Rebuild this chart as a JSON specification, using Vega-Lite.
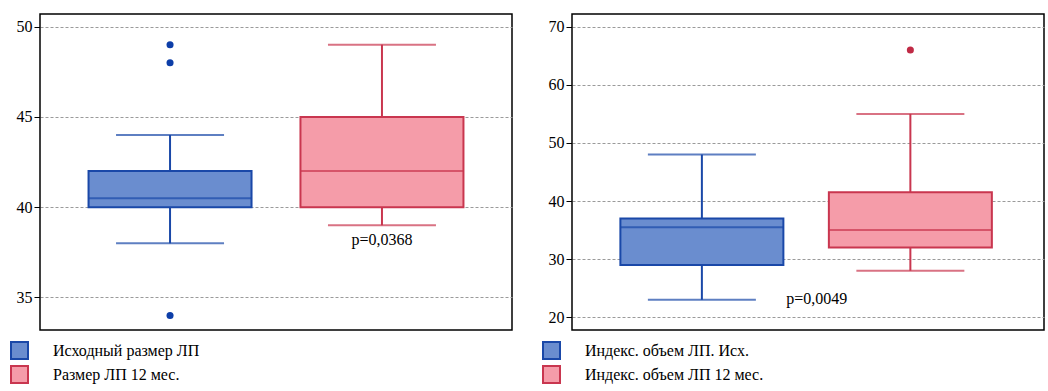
{
  "$schema": "https://vega.github.io/schema/vega-lite/v6.json",
  "background": "white",
  "padding": {"left": 9, "top": 13, "right": 5, "bottom": 2},
  "spacing": 28,
  "config": {
    "font": "Liberation Serif",
    "view": {"stroke": "#000", "strokeWidth": 1.5},
    "axis": {"labelFont": "Liberation Serif", "labelFontSize": 16, "labelColor": "#000", "tickColor": "#000", "tickSize": 6, "labelPadding": 2, "domain": false, "grid": true, "gridDash": [3, 2], "gridColor": "#9a9a9a", "title": null},
    "legend": {"title": null, "symbolType": "square", "symbolSize": 289, "symbolStrokeWidth": 2, "labelFont": "Liberation Serif", "labelFontSize": 16, "labelColor": "#000", "labelOffset": 24, "labelLimit": 500, "rowPadding": -1, "direction": "vertical"}
  },
  "datasets": {
    "boxes": [
      {"panel": "A", "group": "Исходный размер ЛП", "pos": 1, "lower": 38, "q1": 40, "median": 40.5, "q3": 42, "upper": 44},
      {"panel": "A", "group": "Размер ЛП 12 мес.", "pos": 2, "lower": 39, "q1": 40, "median": 42, "q3": 45, "upper": 49},
      {"panel": "B", "group": "Индекс. объем ЛП. Исх.", "pos": 1, "lower": 23, "q1": 29, "median": 35.5, "q3": 37, "upper": 48},
      {"panel": "B", "group": "Индекс. объем ЛП 12 мес.", "pos": 2, "lower": 28, "q1": 32, "median": 35, "q3": 41.5, "upper": 55}
    ],
    "outliers": [
      {"panel": "A", "group": "Исходный размер ЛП", "pos": 1, "value": 49},
      {"panel": "A", "group": "Исходный размер ЛП", "pos": 1, "value": 48},
      {"panel": "A", "group": "Исходный размер ЛП", "pos": 1, "value": 34},
      {"panel": "B", "group": "Индекс. объем ЛП 12 мес.", "pos": 2, "value": 66}
    ],
    "labels": [
      {"panel": "A", "pos": 2, "y": 38.2, "text": "p=0,0368"},
      {"panel": "B", "pos": 1.551, "y": 23.1, "text": "p=0,0049"}
    ]
  },
  "hconcat": [
    {
      "width": 472,
      "height": 316,
      "layer": [
        {
          "data": {"name": "boxes"},
          "transform": [{"filter": "datum.panel === 'A'"}],
          "mark": {"type": "rule", "strokeWidth": 2},
          "encoding": {
            "x": {"field": "pos", "type": "quantitative", "scale": {"domain": [0.41, 2.59], "nice": false, "zero": false}, "axis": null},
            "y": {"field": "lower", "type": "quantitative", "scale": {"domain": [33.2, 50.7], "nice": false, "zero": false}, "axis": {"values": [35, 40, 45, 50]}},
            "y2": {"field": "upper"},
            "stroke": {"field": "group", "type": "nominal", "scale": {"domain": ["Исходный размер ЛП", "Размер ЛП 12 мес."], "range": ["#1a48a8", "#c9364f"]}, "legend": {"orient": "none", "legendX": -30, "legendY": 327}}
          }
        },
        {
          "data": {"name": "boxes"},
          "transform": [{"filter": "datum.panel === 'A'"}],
          "mark": {"type": "tick", "orient": "horizontal", "size": 108, "thickness": 2},
          "encoding": {
            "x": {"field": "pos", "type": "quantitative"},
            "y": {"field": "lower", "type": "quantitative"},
            "color": {"field": "group", "type": "nominal", "scale": {"domain": ["Исходный размер ЛП", "Размер ЛП 12 мес."], "range": ["#1a48a8", "#c9364f"]}, "legend": null}
          }
        },
        {
          "data": {"name": "boxes"},
          "transform": [{"filter": "datum.panel === 'A'"}],
          "mark": {"type": "tick", "orient": "horizontal", "size": 108, "thickness": 2},
          "encoding": {
            "x": {"field": "pos", "type": "quantitative"},
            "y": {"field": "upper", "type": "quantitative"},
            "color": {"field": "group", "type": "nominal", "scale": {"domain": ["Исходный размер ЛП", "Размер ЛП 12 мес."], "range": ["#1a48a8", "#c9364f"]}, "legend": null}
          }
        },
        {
          "data": {"name": "boxes"},
          "transform": [{"filter": "datum.panel === 'A'"}],
          "mark": {"type": "bar", "size": 163, "strokeWidth": 2, "opacity": 1},
          "encoding": {
            "x": {"field": "pos", "type": "quantitative"},
            "y": {"field": "q1", "type": "quantitative"},
            "y2": {"field": "q3"},
            "fill": {"field": "group", "type": "nominal", "scale": {"domain": ["Исходный размер ЛП", "Размер ЛП 12 мес."], "range": ["#6a8dcf", "#f59ca9"]}, "legend": {"orient": "none", "legendX": -30, "legendY": 327}},
            "stroke": {"field": "group", "type": "nominal"}
          }
        },
        {
          "data": {"name": "boxes"},
          "transform": [{"filter": "datum.panel === 'A'"}],
          "mark": {"type": "tick", "orient": "horizontal", "size": 163, "thickness": 2},
          "encoding": {
            "x": {"field": "pos", "type": "quantitative"},
            "y": {"field": "median", "type": "quantitative"},
            "color": {"field": "group", "type": "nominal", "scale": {"domain": ["Исходный размер ЛП", "Размер ЛП 12 мес."], "range": ["#1a48a8", "#c9364f"]}, "legend": null}
          }
        },
        {
          "data": {"name": "outliers"},
          "transform": [{"filter": "datum.panel === 'A'"}],
          "mark": {"type": "point", "filled": true, "size": 50, "opacity": 1},
          "encoding": {
            "x": {"field": "pos", "type": "quantitative"},
            "y": {"field": "value", "type": "quantitative"},
            "color": {"field": "group", "type": "nominal", "scale": {"domain": ["Исходный размер ЛП", "Размер ЛП 12 мес."], "range": ["#0d3ea8", "#c02a45"]}, "legend": null}
          }
        },
        {
          "data": {"name": "labels"},
          "transform": [{"filter": "datum.panel === 'A'"}],
          "mark": {"type": "text", "font": "Liberation Serif", "fontSize": 16, "color": "#000", "baseline": "middle", "align": "center"},
          "encoding": {
            "x": {"field": "pos", "type": "quantitative"},
            "y": {"field": "y", "type": "quantitative"},
            "text": {"field": "text"}
          }
        }
      ],
      "resolve": {"scale": {"color": "independent"}}
    },
    {
      "width": 472,
      "height": 316,
      "layer": [
        {
          "data": {"name": "boxes"},
          "transform": [{"filter": "datum.panel === 'B'"}],
          "mark": {"type": "rule", "strokeWidth": 2},
          "encoding": {
            "x": {"field": "pos", "type": "quantitative", "scale": {"domain": [0.401, 2.617], "nice": false, "zero": false}, "axis": null},
            "y": {"field": "lower", "type": "quantitative", "scale": {"domain": [17.8, 72.2], "nice": false, "zero": false}, "axis": {"values": [20, 30, 40, 50, 60, 70]}},
            "y2": {"field": "upper"},
            "stroke": {"field": "group", "type": "nominal", "scale": {"domain": ["Индекс. объем ЛП. Исх.", "Индекс. объем ЛП 12 мес."], "range": ["#1a48a8", "#c9364f"]}, "legend": {"orient": "none", "legendX": -30, "legendY": 327}}
          }
        },
        {
          "data": {"name": "boxes"},
          "transform": [{"filter": "datum.panel === 'B'"}],
          "mark": {"type": "tick", "orient": "horizontal", "size": 108, "thickness": 2},
          "encoding": {
            "x": {"field": "pos", "type": "quantitative"},
            "y": {"field": "lower", "type": "quantitative"},
            "color": {"field": "group", "type": "nominal", "scale": {"domain": ["Индекс. объем ЛП. Исх.", "Индекс. объем ЛП 12 мес."], "range": ["#1a48a8", "#c9364f"]}, "legend": null}
          }
        },
        {
          "data": {"name": "boxes"},
          "transform": [{"filter": "datum.panel === 'B'"}],
          "mark": {"type": "tick", "orient": "horizontal", "size": 108, "thickness": 2},
          "encoding": {
            "x": {"field": "pos", "type": "quantitative"},
            "y": {"field": "upper", "type": "quantitative"},
            "color": {"field": "group", "type": "nominal", "scale": {"domain": ["Индекс. объем ЛП. Исх.", "Индекс. объем ЛП 12 мес."], "range": ["#1a48a8", "#c9364f"]}, "legend": null}
          }
        },
        {
          "data": {"name": "boxes"},
          "transform": [{"filter": "datum.panel === 'B'"}],
          "mark": {"type": "bar", "size": 163, "strokeWidth": 2, "opacity": 1},
          "encoding": {
            "x": {"field": "pos", "type": "quantitative"},
            "y": {"field": "q1", "type": "quantitative"},
            "y2": {"field": "q3"},
            "fill": {"field": "group", "type": "nominal", "scale": {"domain": ["Индекс. объем ЛП. Исх.", "Индекс. объем ЛП 12 мес."], "range": ["#6a8dcf", "#f59ca9"]}, "legend": {"orient": "none", "legendX": -30, "legendY": 327}},
            "stroke": {"field": "group", "type": "nominal"}
          }
        },
        {
          "data": {"name": "boxes"},
          "transform": [{"filter": "datum.panel === 'B'"}],
          "mark": {"type": "tick", "orient": "horizontal", "size": 163, "thickness": 2},
          "encoding": {
            "x": {"field": "pos", "type": "quantitative"},
            "y": {"field": "median", "type": "quantitative"},
            "color": {"field": "group", "type": "nominal", "scale": {"domain": ["Индекс. объем ЛП. Исх.", "Индекс. объем ЛП 12 мес."], "range": ["#1a48a8", "#c9364f"]}, "legend": null}
          }
        },
        {
          "data": {"name": "outliers"},
          "transform": [{"filter": "datum.panel === 'B'"}],
          "mark": {"type": "point", "filled": true, "size": 50, "opacity": 1},
          "encoding": {
            "x": {"field": "pos", "type": "quantitative"},
            "y": {"field": "value", "type": "quantitative"},
            "color": {"field": "group", "type": "nominal", "scale": {"domain": ["Индекс. объем ЛП. Исх.", "Индекс. объем ЛП 12 мес."], "range": ["#0d3ea8", "#c02a45"]}, "legend": null}
          }
        },
        {
          "data": {"name": "labels"},
          "transform": [{"filter": "datum.panel === 'B'"}],
          "mark": {"type": "text", "font": "Liberation Serif", "fontSize": 16, "color": "#000", "baseline": "middle", "align": "center"},
          "encoding": {
            "x": {"field": "pos", "type": "quantitative"},
            "y": {"field": "y", "type": "quantitative"},
            "text": {"field": "text"}
          }
        }
      ],
      "resolve": {"scale": {"color": "independent"}}
    }
  ],
  "resolve": {"scale": {"fill": "independent", "stroke": "independent", "color": "independent"}}
}
